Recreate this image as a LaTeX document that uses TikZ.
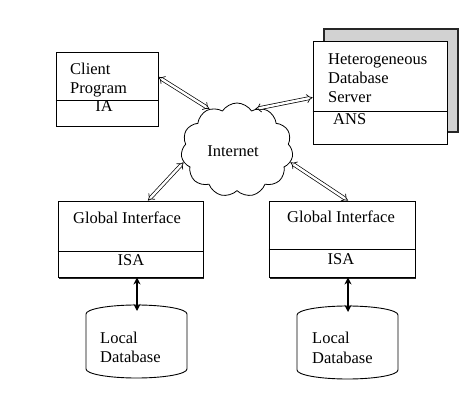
\documentclass[tikz,border=0pt]{standalone}
\usepackage{fontspec}
\setmainfont{Liberation Serif}
\usetikzlibrary{shapes.symbols,arrows.meta,shadows}

\tikzset{
  box/.style={draw,line width=0.9pt,fill=white,inner sep=0pt,
              drop shadow={shadow xshift=1.4pt,shadow yshift=-1.5pt,
                           opacity=1,fill=black!85}},
  txt/.style={font=\fontsize{16.5}{19}\selectfont,inner sep=0pt,anchor=base west},
  link/.style={double,double distance=2.4pt,line width=0.7pt,
               {Implies[length=5pt,width=10pt]}-{Implies[length=5pt,width=10pt]}},
  dblink/.style={line width=1.4pt,{Stealth[length=7pt,width=7pt]}-{Stealth[length=7pt,width=7pt]}}
}

\begin{document}
\begin{tikzpicture}[x=1pt,y=-1pt]
  % ------- parameters -------
  \def\R{50.5pt}   % cylinder radius
  \def\EY{9pt}     % vertical radius of ellipses

  \useasboundingbox (0,0) rectangle (474,406);

  % ------- client program -------
  \node[box,minimum width=102pt,minimum height=74pt] (client) at (107,89) {};
  \draw[line width=0.9pt] (client.west |- 0,100) -- (client.east |- 0,100);
  \node[txt] at (70,75) {Client};
  \node[txt] at (70,93.5) {Program};
  \node[txt,anchor=base] at (104,112) {IA};

  % ------- heterogeneous database server -------
  \node[box,minimum width=134pt,minimum height=103pt,
        general shadow={shadow xshift=11pt,shadow yshift=12pt,
                        fill=gray!35,draw=black!85,line width=1.2pt}] (server) at (380,92.5) {};
  \draw[line width=0.9pt] (server.west |- 0,111) -- (server.east |- 0,111);
  \node[txt] at (328,64.5) {Heterogeneous};
  \node[txt] at (328,83.5) {Database};
  \node[txt] at (328,102.5) {Server};
  \node[txt] at (333,124.5) {ANS};

  % ------- internet -------
  \node[draw,line width=0.8pt,cloud,cloud puffs=11,cloud puff arc=115,aspect=1.2,
        minimum width=112pt,minimum height=94pt,inner sep=0pt] (inet) at (237,150) {};
  \node[txt,anchor=base] at (233,157) {Internet};

  % ------- global interfaces -------
  \node[box,minimum width=145pt,minimum height=76pt] (lgi) at (130.5,239) {};
  \draw[line width=0.9pt] (lgi.west |- 0,251) -- (lgi.east |- 0,251);
  \node[txt] at (73,224) {Global Interface};
  \node[txt,anchor=base] at (131,265.5) {ISA};

  \node[box,minimum width=146pt,minimum height=76pt] (rgi) at (342,239) {};
  \draw[line width=0.9pt] (rgi.west |- 0,249) -- (rgi.east |- 0,249);
  \node[txt] at (287,223) {Global Interface};
  \node[txt,anchor=base] at (341,265) {ISA};

  % ------- local databases -------
  \draw[line width=0.9pt] (86,314) arc[start angle=180,end angle=0,x radius=\R,y radius=\EY]
        -- (187,369) arc[start angle=0,end angle=-180,x radius=\R,y radius=\EY] -- cycle;
  \node[txt] (ldb) at (100,343) {Local};
  \node[txt] at (100,362) {Database};
  \coordinate (ldbtop) at (137,311);

  \draw[line width=0.9pt] (297,315) arc[start angle=180,end angle=0,x radius=\R,y radius=\EY]
        -- (398,370) arc[start angle=0,end angle=-180,x radius=\R,y radius=\EY] -- cycle;
  \node[txt] (rdb) at (312,343) {Local};
  \node[txt] at (312,363) {Database};
  \coordinate (rdbtop) at (348,312);

  % ------- connections -------
  \draw[link] ([yshift=12pt]client.east) -- (inet.124);
  \draw[link] (inet.66) -- ([yshift=-5pt]server.west);
  \draw[link] ([xshift=17.5pt]lgi.north) -- (inet.193);
  \draw[link] ([xshift=6pt]rgi.north) -- (inet.-13);
  \draw[dblink] (lgi.south -| ldbtop) -- (ldbtop);
  \draw[dblink] (rgi.south -| rdbtop) -- (rdbtop);
\end{tikzpicture}
\end{document}
